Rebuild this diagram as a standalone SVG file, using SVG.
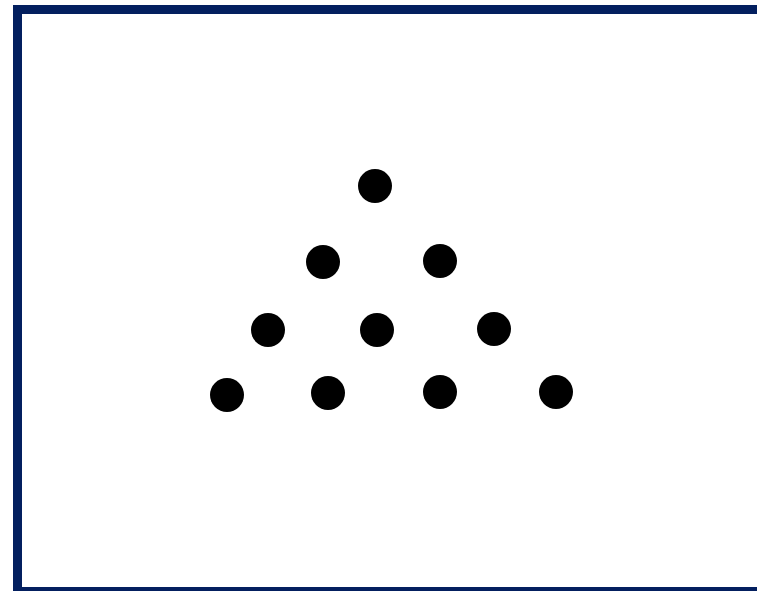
<svg xmlns="http://www.w3.org/2000/svg" width="757" height="591" viewBox="0 0 757 591">
<style>
.frame{fill:#fff;stroke:#031f5f;stroke-width:9}
.dot{fill:#000}
</style>
<rect width="757" height="591" fill="#fff"/>
<rect class="frame" x="17.5" y="9.5" width="760" height="582"/>
<g id="dots">
<circle class="dot" cx="375" cy="186" r="17"/>
<circle class="dot" cx="323" cy="262" r="17"/>
<circle class="dot" cx="440" cy="261" r="17"/>
<circle class="dot" cx="268" cy="330" r="17"/>
<circle class="dot" cx="377" cy="330" r="17"/>
<circle class="dot" cx="494" cy="329" r="17"/>
<circle class="dot" cx="227" cy="395" r="17"/>
<circle class="dot" cx="328" cy="393" r="17"/>
<circle class="dot" cx="440" cy="392" r="17"/>
<circle class="dot" cx="556" cy="392" r="17"/>
</g>
</svg>
